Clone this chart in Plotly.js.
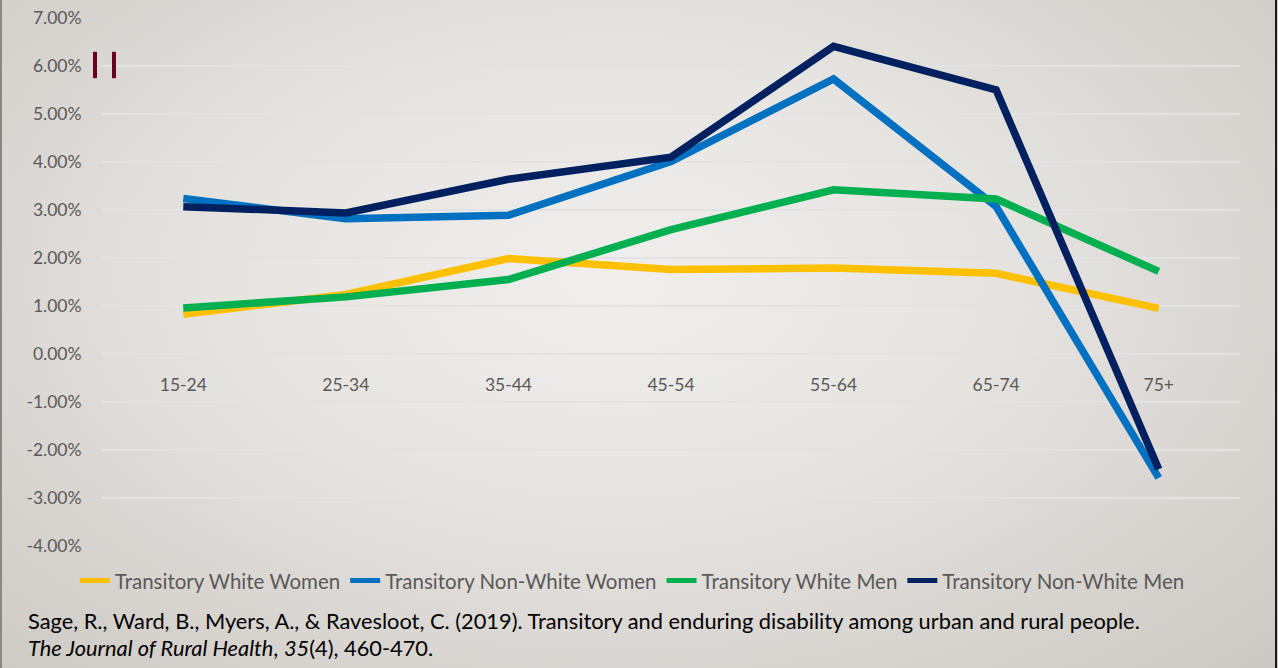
<!DOCTYPE html>
<html>
<head>
<meta charset="utf-8">
<script src="https://cdn.plot.ly/plotly-3.0.1.min.js"></script>
<style>
html,body{margin:0;padding:0;width:1278px;height:668px;overflow:hidden;}
body{background:radial-gradient(ellipse 75% 85% at 48% 42%, #f0efed 0%, #e6e4e1 40%, #d6d2ce 75%, #cbc7c2 100%);position:relative;}
#chart{width:1278px;height:668px;position:absolute;left:0;top:0;}
#lb{position:absolute;left:0;top:0;width:2px;height:668px;background:#8a8784;}
#rb{position:absolute;left:1275px;top:0;width:2px;height:668px;background:#1a1a1a;}
</style>
</head>
<body>
<div id="chart"></div>
<div id="lb"></div>
<div id="rb"></div>
<script>
const categories = ["15-24","25-34","35-44","45-54","55-64","65-74","75+"];
const whiteWomen    = [0.83, 1.24, 1.99, 1.76, 1.79, 1.68, 0.95];
const nonWhiteWomen = [3.24, 2.82, 2.89, 4.01, 5.73, 3.07, -2.58];
const whiteMen      = [0.96, 1.19, 1.55, 2.59, 3.42, 3.23, 1.72];
const nonWhiteMen   = [3.07, 2.94, 3.64, 4.10, 6.41, 5.50, -2.40];
const seriesNames = ["Transitory White Women","Transitory Non-White Women","Transitory White Men","Transitory Non-White Men"];
const seriesColors = ["#ffc000","#0070c0","#00b050","#002060"];
const yTickVals = [7,6,5,4,3,2,1,0,-1,-2,-3,-4];
const yRange = [-4, 7];

const values = [whiteWomen, nonWhiteWomen, whiteMen, nonWhiteMen];
const traces = values.map((v, i) => ({
  type: "scatter",
  mode: "lines",
  x: categories,
  y: v,
  name: seriesNames[i],
  line: {color: seriesColors[i], width: 7.5},
  hoverinfo: "skip"
}));

const fontFam = "Lato, 'Open Sans', sans-serif";
const zeroPos = (0 - yRange[0]) / (yRange[1] - yRange[0]);

const layout = {
  width: 1278, height: 668,
  paper_bgcolor: "rgba(0,0,0,0)",
  plot_bgcolor: "rgba(0,0,0,0)",
  margin: {l: 102, r: 38, t: 18, b: 122},
  showlegend: true,
  legend: {
    orientation: "h", x: 0.466, xanchor: "center", y: -0.028, yanchor: "top",
    font: {family: fontFam, size: 20.5, color: "#595959"},
    itemwidth: 30, tracegroupgap: 0, itemsizing: "constant"
  },
  xaxis: {
    type: "category",
    range: [-0.5, categories.length - 0.5],
    anchor: "free", position: zeroPos,
    showgrid: false, zeroline: false, showline: false,
    ticks: "outside", ticklen: 15, tickcolor: "rgba(0,0,0,0)",
    tickfont: {family: fontFam, size: 17.5, color: "#595959"},
    fixedrange: true
  },
  yaxis: {
    range: yRange,
    tickvals: yTickVals,
    ticktext: yTickVals.map(v => v.toFixed(2) + "%"),
    showgrid: true, gridcolor: "#e3e2e4", gridwidth: 1.3,
    zeroline: false, showline: false,
    ticks: "outside", ticklen: 16, tickcolor: "rgba(0,0,0,0)",
    tickfont: {family: fontFam, size: 17.5, color: "#595959"},
    fixedrange: true
  },
  shapes: [
    {type: "rect", xref: "paper", yref: "paper", x0: -0.0079, x1: -0.0044, y0: 0.886, y1: 0.936, fillcolor: "#6b0022", line: {width: 0}},
    {type: "rect", xref: "paper", yref: "paper", x0: 0.0088, x1: 0.0123, y0: 0.886, y1: 0.936, fillcolor: "#6b0022", line: {width: 0}}
  ],
  annotations: [
    {xref: "paper", yref: "paper", x: -0.0668, y: -0.142, xanchor: "left", yanchor: "middle", showarrow: false,
     text: "Sage, R., Ward, B., Myers, A., & Ravesloot, C. (2019). Transitory and enduring disability among urban and rural people.",
     font: {family: fontFam, size: 21.8, color: "#000000"}},
    {xref: "paper", yref: "paper", x: -0.0668, y: -0.192, xanchor: "left", yanchor: "middle", showarrow: false,
     text: "<i>The Journal of Rural Health</i>, <i>35</i>(4), 460-470.",
     font: {family: fontFam, size: 21.8, color: "#000000"}}
  ]
};

Plotly.newPlot("chart", traces, layout, {displayModeBar: false, staticPlot: true});
</script>
</body>
</html>
